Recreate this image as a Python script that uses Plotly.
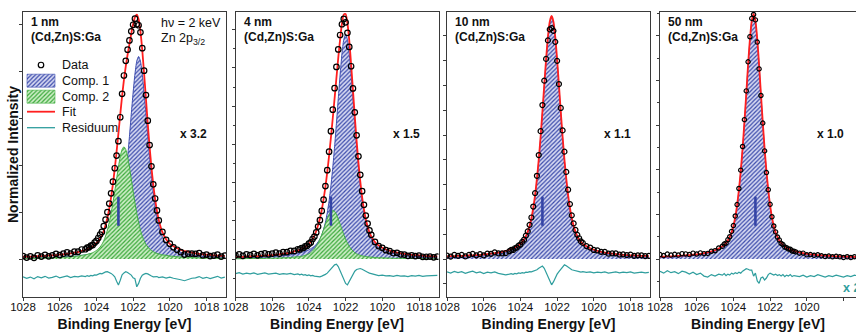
import plotly.graph_objects as go

# ---------------- data ----------------
energy = [1028.0, 1027.8, 1027.6, 1027.4, 1027.2, 1027.0, 1026.8, 1026.6, 1026.4, 1026.2,
          1026.0, 1025.8, 1025.6, 1025.4, 1025.2, 1025.0, 1024.8, 1024.6, 1024.5, 1024.4,
          1024.3, 1024.2, 1024.1, 1024.0, 1023.9, 1023.8, 1023.7, 1023.6, 1023.5, 1023.4,
          1023.3, 1023.2, 1023.1, 1023.0, 1022.9, 1022.8, 1022.7, 1022.6, 1022.5, 1022.4,
          1022.3, 1022.2, 1022.1, 1022.0, 1021.9, 1021.8, 1021.7, 1021.6, 1021.5, 1021.4,
          1021.3, 1021.2, 1021.1, 1021.0, 1020.9, 1020.8, 1020.7, 1020.6, 1020.4, 1020.2,
          1020.0, 1019.8, 1019.6, 1019.4, 1019.2, 1019.0, 1018.8, 1018.6, 1018.4, 1018.2,
          1018.0, 1017.8, 1017.6, 1017.4, 1017.2, 1017.0]

# 1 nm
comp1_1nm = [0.004, 0.004, 0.004, 0.005, 0.005, 0.005, 0.006, 0.006, 0.007, 0.007,
             0.008, 0.009, 0.010, 0.011, 0.012, 0.013, 0.015, 0.017, 0.018, 0.020,
             0.021, 0.022, 0.024, 0.027, 0.029, 0.032, 0.034, 0.038, 0.042, 0.047,
             0.054, 0.063, 0.074, 0.089, 0.109, 0.135, 0.170, 0.215, 0.271, 0.337,
             0.415, 0.501, 0.593, 0.681, 0.758, 0.811, 0.830, 0.811, 0.758, 0.681,
             0.593, 0.501, 0.415, 0.337, 0.271, 0.215, 0.170, 0.135, 0.089, 0.063,
             0.047, 0.038, 0.032, 0.027, 0.022, 0.020, 0.017, 0.015, 0.013, 0.012,
             0.011, 0.010, 0.009, 0.008, 0.007, 0.007]
comp2_1nm = [0.003, 0.003, 0.003, 0.003, 0.004, 0.004, 0.004, 0.005, 0.005, 0.006,
             0.007, 0.007, 0.008, 0.009, 0.011, 0.012, 0.015, 0.017, 0.019, 0.021,
             0.023, 0.026, 0.030, 0.035, 0.041, 0.049, 0.060, 0.075, 0.094, 0.119,
             0.150, 0.187, 0.230, 0.278, 0.328, 0.377, 0.420, 0.449, 0.460, 0.449,
             0.420, 0.377, 0.328, 0.278, 0.230, 0.187, 0.150, 0.119, 0.094, 0.075,
             0.060, 0.049, 0.041, 0.035, 0.030, 0.026, 0.023, 0.021, 0.017, 0.015,
             0.012, 0.011, 0.009, 0.008, 0.007, 0.007, 0.006, 0.005, 0.005, 0.004,
             0.004, 0.004, 0.003, 0.003, 0.003, 0.003]
data_1nm = [0.012, 0.006, 0.011, 0.005, 0.015, 0.010, 0.017, 0.011, 0.015, 0.021,
            0.016, 0.022, 0.027, 0.022, 0.030, 0.030, 0.039, 0.040, 0.047, 0.048,
            0.055, 0.057, 0.067, 0.074, 0.086, 0.100, 0.111, 0.135, 0.161, 0.192,
            0.227, 0.269, 0.317, 0.372, 0.424, 0.483, 0.581, 0.677, 0.752, 0.812,
            0.858, 0.896, 0.933, 0.960, 0.985, 0.962, 0.958, 0.929, 0.864, 0.772,
            0.672, 0.567, 0.467, 0.380, 0.306, 0.248, 0.199, 0.158, 0.111, 0.078,
            0.063, 0.048, 0.038, 0.028, 0.018, 0.022, 0.022, 0.021, 0.024, 0.015,
            0.018, 0.012, 0.014, 0.018, 0.010, 0.014]
background_1nm = 0.003

# 4 nm
comp1_4nm = [0.005, 0.005, 0.005, 0.006, 0.006, 0.007, 0.007, 0.008, 0.008, 0.009,
             0.010, 0.011, 0.012, 0.014, 0.016, 0.017, 0.020, 0.023, 0.025, 0.027,
             0.029, 0.032, 0.035, 0.038, 0.042, 0.047, 0.052, 0.060, 0.070, 0.082,
             0.098, 0.121, 0.150, 0.189, 0.238, 0.300, 0.374, 0.460, 0.556, 0.657,
             0.754, 0.840, 0.899, 0.920, 0.899, 0.840, 0.754, 0.657, 0.556, 0.460,
             0.374, 0.300, 0.238, 0.189, 0.150, 0.121, 0.098, 0.082, 0.060, 0.047,
             0.038, 0.032, 0.027, 0.023, 0.020, 0.017, 0.016, 0.014, 0.012, 0.011,
             0.010, 0.009, 0.008, 0.008, 0.007, 0.007]
comp2_4nm = [0.001, 0.001, 0.001, 0.002, 0.002, 0.002, 0.002, 0.002, 0.003, 0.003,
             0.003, 0.004, 0.004, 0.005, 0.005, 0.006, 0.008, 0.009, 0.010, 0.011,
             0.013, 0.015, 0.018, 0.021, 0.026, 0.033, 0.041, 0.052, 0.065, 0.081,
             0.100, 0.121, 0.143, 0.164, 0.183, 0.195, 0.200, 0.195, 0.183, 0.164,
             0.143, 0.121, 0.100, 0.081, 0.065, 0.052, 0.041, 0.033, 0.026, 0.021,
             0.018, 0.015, 0.013, 0.011, 0.010, 0.009, 0.008, 0.008, 0.006, 0.005,
             0.005, 0.004, 0.004, 0.003, 0.003, 0.003, 0.002, 0.002, 0.002, 0.002,
             0.002, 0.002, 0.001, 0.001, 0.001, 0.001]
data_4nm = [0.015, 0.019, 0.013, 0.019, 0.016, 0.021, 0.015, 0.020, 0.023, 0.019,
            0.022, 0.026, 0.022, 0.028, 0.028, 0.033, 0.033, 0.040, 0.039, 0.045,
            0.045, 0.052, 0.054, 0.063, 0.068, 0.082, 0.092, 0.109, 0.133, 0.159,
            0.197, 0.243, 0.299, 0.364, 0.440, 0.524, 0.612, 0.700, 0.787, 0.859,
            0.918, 0.962, 0.984, 0.970, 0.927, 0.869, 0.790, 0.699, 0.601, 0.507,
            0.421, 0.345, 0.278, 0.222, 0.178, 0.145, 0.117, 0.099, 0.070, 0.053,
            0.046, 0.036, 0.032, 0.024, 0.025, 0.019, 0.018, 0.013, 0.015, 0.012,
            0.014, 0.009, 0.009, 0.010, 0.007, 0.010]
background_4nm = 0.003

# 10 nm
comp1_10nm = [0.005, 0.006, 0.006, 0.007, 0.007, 0.008, 0.009, 0.009, 0.010, 0.011,
              0.013, 0.014, 0.016, 0.018, 0.020, 0.023, 0.027, 0.032, 0.035, 0.038,
              0.041, 0.046, 0.050, 0.056, 0.064, 0.075, 0.088, 0.106, 0.130, 0.161,
              0.203, 0.256, 0.323, 0.402, 0.495, 0.598, 0.707, 0.812, 0.904, 0.967,
              0.990, 0.967, 0.904, 0.812, 0.707, 0.598, 0.495, 0.402, 0.323, 0.256,
              0.203, 0.161, 0.130, 0.106, 0.088, 0.075, 0.064, 0.056, 0.046, 0.038,
              0.032, 0.027, 0.023, 0.020, 0.018, 0.016, 0.014, 0.013, 0.011, 0.010,
              0.009, 0.009, 0.008, 0.007, 0.007, 0.006]
data_10nm = [0.014, 0.010, 0.017, 0.013, 0.017, 0.011, 0.017, 0.021, 0.015, 0.020,
             0.015, 0.022, 0.021, 0.027, 0.023, 0.023, 0.024, 0.032, 0.037, 0.037,
             0.044, 0.047, 0.055, 0.059, 0.070, 0.079, 0.096, 0.113, 0.140, 0.170,
             0.215, 0.270, 0.341, 0.426, 0.524, 0.631, 0.731, 0.820, 0.896, 0.941,
             0.946, 0.935, 0.890, 0.812, 0.717, 0.619, 0.527, 0.440, 0.357, 0.284,
             0.225, 0.179, 0.146, 0.119, 0.099, 0.085, 0.072, 0.066, 0.053, 0.047,
             0.037, 0.035, 0.029, 0.029, 0.022, 0.023, 0.023, 0.018, 0.019, 0.016,
             0.018, 0.013, 0.015, 0.015, 0.012, 0.013]
background_10nm = 0.006

# 50 nm
comp1_50nm = [0.006, 0.006, 0.007, 0.007, 0.008, 0.009, 0.010, 0.011, 0.012, 0.014,
              0.015, 0.017, 0.020, 0.023, 0.027, 0.032, 0.039, 0.048, 0.054, 0.062,
              0.073, 0.087, 0.105, 0.131, 0.167, 0.216, 0.279, 0.356, 0.449, 0.557,
              0.672, 0.792, 0.897, 0.972, 1.000, 0.972, 0.897, 0.792, 0.672, 0.557,
              0.449, 0.356, 0.279, 0.216, 0.167, 0.131, 0.105, 0.087, 0.073, 0.062,
              0.054, 0.048, 0.042, 0.039, 0.035, 0.032, 0.029, 0.027, 0.023, 0.020,
              0.017, 0.015, 0.014, 0.012, 0.011, 0.010, 0.009, 0.008, 0.007, 0.007,
              0.006, 0.006, 0.005, 0.005, 0.005, 0.004]
data_50nm = [0.018, 0.014, 0.020, 0.016, 0.019, 0.016, 0.022, 0.021, 0.018, 0.024,
             0.020, 0.025, 0.022, 0.023, 0.032, 0.034, 0.045, 0.052, 0.061, 0.065,
             0.079, 0.091, 0.113, 0.137, 0.176, 0.223, 0.289, 0.364, 0.461, 0.571,
             0.689, 0.808, 0.911, 0.986, 1.002, 0.980, 0.889, 0.779, 0.670, 0.557,
             0.443, 0.354, 0.284, 0.224, 0.173, 0.135, 0.111, 0.090, 0.078, 0.064,
             0.059, 0.049, 0.046, 0.041, 0.040, 0.033, 0.032, 0.029, 0.024, 0.024,
             0.017, 0.018, 0.015, 0.017, 0.013, 0.010, 0.012, 0.009, 0.011, 0.009,
             0.006, 0.009, 0.006, 0.009, 0.007, 0.007]
background_50nm = 0.004

thickness_labels = ["1 nm", "4 nm", "10 nm", "50 nm"]
sample_label = "(Cd,Zn)S:Ga"
intensity_factors = ["x 3.2", "x 1.5", "x 1.1", "x 1.0"]
residual_factors = [1, 1, 1, 2]
residual_factor_label = "x 2"
energy_ticks = [1028, 1026, 1024, 1022, 1020, 1018]
reference_energy = 1022.8
reference_bar = [0.136, 0.255]
legend_names = ["Data", "Comp. 1", "Comp. 2", "Fit", "Residuum"]

# ---------------- styling / geometry ----------------
W, H = 856, 332
FONT = "Liberation Sans, Arial, Helvetica, sans-serif"
AX = "#3a3a3a"
RED = "#ff1f1f"
TEAL = "#2f9e9e"
BLUE_LINE = "#3d4db0"
GREEN_LINE = "#43b043"
BAR = "#3444a6"
BLUE_PAT = dict(shape="/", fgcolor="#3a4aaa", bgcolor="#d6d9f2", size=3, solidity=0.4)
GREEN_PAT = dict(shape="/", fgcolor="#3aa83a", bgcolor="#cdeec6", size=3, solidity=0.4)

PX_PER_EV = 18.35
PANEL_LEFT = [23, 235.5, 447, 660]
PANEL_W = 203
FRAME_TOP, FRAME_BOTTOM = 12, 297
BASELINE_PX, UNIT_PX = 259, 244
Y_HI = (BASELINE_PX - FRAME_TOP) / UNIT_PX
Y_LO = -(FRAME_BOTTOM - BASELINE_PX) / UNIT_PX

panels = [
    dict(c1=comp1_1nm, c2=comp2_1nm, d=data_1nm, bg=background_1nm,
         off=-0.075, dtick=0.1926, minor=None, ms=5.5),
    dict(c1=comp1_4nm, c2=comp2_4nm, d=data_4nm, bg=background_4nm,
         off=-0.066, dtick=0.1566, minor=0.0783, ms=5.5),
    dict(c1=comp1_10nm, c2=None, d=data_10nm, bg=background_10nm,
         off=-0.056, dtick=0.1016, minor=None, ms=5),
    dict(c1=comp1_50nm, c2=None, d=data_50nm, bg=background_50nm,
         off=-0.066, dtick=0.1828, minor=0.0914, ms=4.3),
]

fig = go.Figure()
layout = dict(
    width=W, height=H, template="none",
    margin=dict(l=0, r=0, t=0, b=0, pad=0),
    paper_bgcolor="white", plot_bgcolor="rgba(0,0,0,0)",
    font=dict(family=FONT, color="#111", size=12),
    showlegend=False, hovermode=False,
)

for i, p in enumerate(panels):
    sfx = "" if i == 0 else str(i + 1)
    xa, ya = "x" + sfx, "y" + sfx
    c2 = p["c2"] if p["c2"] else [0.0] * len(energy)
    fit = [a + b + p["bg"] for a, b in zip(p["c1"], c2)]
    resid = [p["off"] + residual_factors[i] * (d - f) for d, f in zip(p["d"], fit)]

    fig.add_trace(go.Scatter(
        x=energy, y=p["c1"], mode="lines", xaxis=xa, yaxis=ya,
        line=dict(color=BLUE_LINE, width=1, shape="spline", smoothing=0.6),
        fill="tozeroy", fillpattern=BLUE_PAT, hoverinfo="skip"))
    if p["c2"]:
        fig.add_trace(go.Scatter(
            x=energy, y=p["c2"], mode="lines", xaxis=xa, yaxis=ya,
            line=dict(color=GREEN_LINE, width=1, shape="spline", smoothing=0.6),
            fill="tozeroy", fillpattern=GREEN_PAT, hoverinfo="skip"))
    fig.add_trace(go.Scatter(
        x=[reference_energy, reference_energy], y=reference_bar, mode="lines",
        xaxis=xa, yaxis=ya, line=dict(color=BAR, width=2.6), hoverinfo="skip"))
    fig.add_trace(go.Scatter(
        x=energy, y=resid, mode="lines", xaxis=xa, yaxis=ya,
        line=dict(color=TEAL, width=1.2), hoverinfo="skip"))
    fig.add_trace(go.Scatter(
        x=energy, y=fit, mode="lines", xaxis=xa, yaxis=ya,
        line=dict(color=RED, width=1.8, shape="spline", smoothing=0.6), hoverinfo="skip"))
    fig.add_trace(go.Scatter(
        x=energy, y=p["d"], mode="markers", xaxis=xa, yaxis=ya,
        marker=dict(symbol="circle-open", size=p["ms"], color="black",
                    line=dict(width=1.2, color="black")), hoverinfo="skip"))

    left = PANEL_LEFT[i]
    right = min(left + PANEL_W, W)
    x_low = 1028 - (right - left) / PX_PER_EV
    layout["xaxis" + sfx] = dict(
        domain=[left / W, right / W], range=[1028, x_low], anchor=ya,
        tickmode="array", tickvals=energy_ticks, ticks="outside", ticklen=3,
        tickwidth=1, tickcolor=AX, showline=True, linecolor=AX, linewidth=1,
        mirror=True, showgrid=False, zeroline=False, automargin=False,
        ticklabelstandoff=-4, fixedrange=True,
        tickfont=dict(size=11.5, color="#111", family=FONT),
        title=dict(text="<b>Binding Energy [eV]</b>",
                   font=dict(size=14, color="#111", family=FONT), standoff=7))
    yax = dict(
        domain=[1 - FRAME_BOTTOM / H, 1 - FRAME_TOP / H], range=[Y_LO, Y_HI],
        anchor=xa, showticklabels=False, ticks="outside", ticklen=3,
        tickcolor=AX, tickmode="linear", tick0=0, dtick=p["dtick"],
        showline=True, linecolor=AX, linewidth=1, mirror=(i != 3),
        showgrid=False, zeroline=False, automargin=False, fixedrange=True)
    if p["minor"]:
        yax["minor"] = dict(ticks="outside", ticklen=2, tick0=0, dtick=p["minor"],
                            tickcolor=AX, showgrid=False)
    layout["yaxis" + sfx] = yax

# overlay axes in pixel units for legend and labels
layout["xaxis5"] = dict(domain=[0, 1], range=[0, W], visible=False, fixedrange=True, anchor="y5")
layout["yaxis5"] = dict(domain=[0, 1], range=[H, 0], visible=False, fixedrange=True, anchor="x5")

LEG_X0, LEG_X1, LEG_TX = 27, 55, 60
leg_rows = [65, 80.7, 96.7, 111.7, 127.7]
fig.add_trace(go.Scatter(x=[(LEG_X0 + LEG_X1) / 2], y=[leg_rows[0]], mode="markers",
                         xaxis="x5", yaxis="y5", hoverinfo="skip",
                         marker=dict(symbol="circle-open", size=5.5, color="black",
                                     line=dict(width=1.2, color="black"))))
for row, pat, lc in [(leg_rows[1], BLUE_PAT, BLUE_LINE), (leg_rows[2], GREEN_PAT, GREEN_LINE)]:
    fig.add_trace(go.Scatter(
        x=[LEG_X0, LEG_X1, LEG_X1, LEG_X0, LEG_X0],
        y=[row - 6.5, row - 6.5, row + 6.5, row + 6.5, row - 6.5],
        mode="lines", fill="toself", fillpattern=pat, line=dict(color=lc, width=0.6),
        xaxis="x5", yaxis="y5", hoverinfo="skip"))
for row, col in [(leg_rows[3], RED), (leg_rows[4], TEAL)]:
    fig.add_trace(go.Scatter(x=[LEG_X0, LEG_X1], y=[row, row], mode="lines",
                             line=dict(color=col, width=1.8 if col == RED else 1.3),
                             xaxis="x5", yaxis="y5", hoverinfo="skip"))

ann = []


def txt(x, y, s, size=12, xanchor="left", color="#111", angle=0):
    ann.append(dict(x=x, y=y, xref="x5", yref="y5", text=s, showarrow=False,
                    xanchor=xanchor, yanchor="middle", textangle=angle,
                    font=dict(size=size, color=color, family=FONT)))


for name, row in zip(legend_names, leg_rows):
    txt(LEG_TX, row, name, size=12.5)

for i in range(4):
    left = PANEL_LEFT[i]
    txt(left + 6, 22.3, "<b>%s</b>" % thickness_labels[i], size=12)
    txt(left + 6, 37.3, "<b>%s</b>" % sample_label, size=12)
    txt(left + PANEL_W - 17, 134, "<b>%s</b>" % intensity_factors[i], size=12, xanchor="right")

txt(159, 23.3, "h\u03bd = 2 keV", size=12.5)
txt(159, 39, "Zn 2p<sub>3/2</sub>", size=12.5)
txt(841, 288, "<b>%s</b>" % residual_factor_label, size=12.5, color=TEAL)
txt(13, 155, "<b>Normalized Intensity</b>", size=14, xanchor="center", angle=-90)

layout["annotations"] = ann
fig.update_layout(**layout)
fig.write_html("out.html", config={"displayModeBar": False, "staticPlot": True},
               post_script="document.body.style.margin='0px';")
